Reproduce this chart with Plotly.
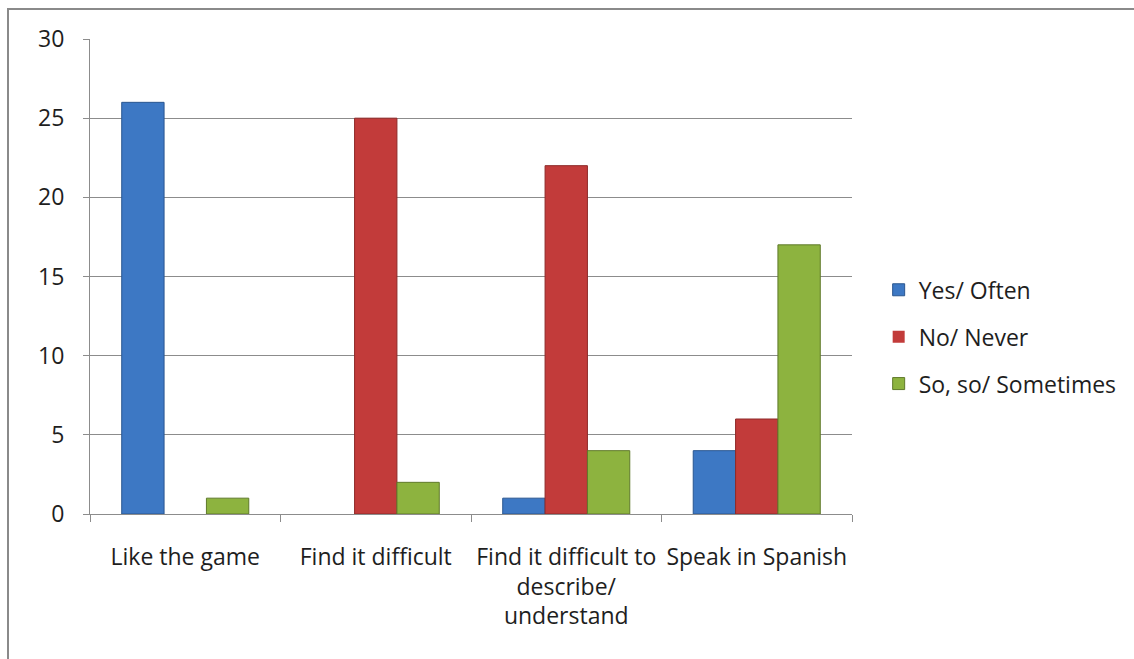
import plotly.graph_objects as go

categories = ["Like the game", "Find it difficult", "Find it difficult to<br>describe/<br>understand", "Speak in Spanish"]
series_names = ["Yes/ Often", "No/ Never", "So, so/ Sometimes"]
yes_often = [26, 0, 1, 4]
no_never = [0, 25, 22, 6]
so_so = [1, 2, 4, 17]
y_ticks = [0, 5, 10, 15, 20, 25, 30]

colors = ["#3D78C4", "#C23B3A", "#8DB33F"]
outlines = ["#2A5690", "#8E2A29", "#5F7A2A"]

FONT = "Open Sans"
FS = 23
fig = go.Figure()
for i, (name, vals) in enumerate(zip(series_names, [yes_often, no_never, so_so])):
    fig.add_trace(go.Bar(
        x=categories, y=vals, name=name, legendgroup=name,
        marker=dict(color=colors[i],
                    line=dict(color=outlines[i], width=[1 if v else 0 for v in vals])),
    ))

fig.update_layout(
    width=1134, height=659,
    margin=dict(l=90, r=282, t=39, b=145),
    paper_bgcolor="white", plot_bgcolor="white",
    barmode="group", bargap=0.333, bargroupgap=0,
    font=dict(family=FONT, size=FS, color="#1e1e1e"),
    showlegend=True,
    legend=dict(x=1.035, y=0.373, xanchor="left", yanchor="middle",
                font=dict(family=FONT, size=FS, color="#1e1e1e"),
                tracegroupgap=14, bgcolor="rgba(0,0,0,0)"),
    xaxis=dict(type="category", showgrid=False, showline=True, linecolor="#8c8c8c", linewidth=1,
               ticks="outside", tickson="boundaries", ticklen=7, tickcolor="#8c8c8c",
               ticklabelstandoff=22,
               tickfont=dict(family=FONT, size=FS, color="#1e1e1e")),
    yaxis=dict(range=[0, 30], tickvals=y_ticks, showgrid=True, gridcolor="#8c8c8c", gridwidth=1,
               showline=True, linecolor="#8c8c8c", linewidth=1, ticks="outside", ticklen=6,
               tickcolor="#8c8c8c", zeroline=False, ticklabelstandoff=14,
               tickfont=dict(family=FONT, size=FS, color="#1e1e1e")),
    shapes=[dict(type="rect", xref="paper", yref="paper",
                 x0=(8 - 90) / 762, x1=1.6, y0=-0.6, y1=(514 - 9) / 475,
                 line=dict(color="#8a8a8a", width=2), fillcolor="rgba(0,0,0,0)", layer="below")],
)

fig.write_html("out.html")
